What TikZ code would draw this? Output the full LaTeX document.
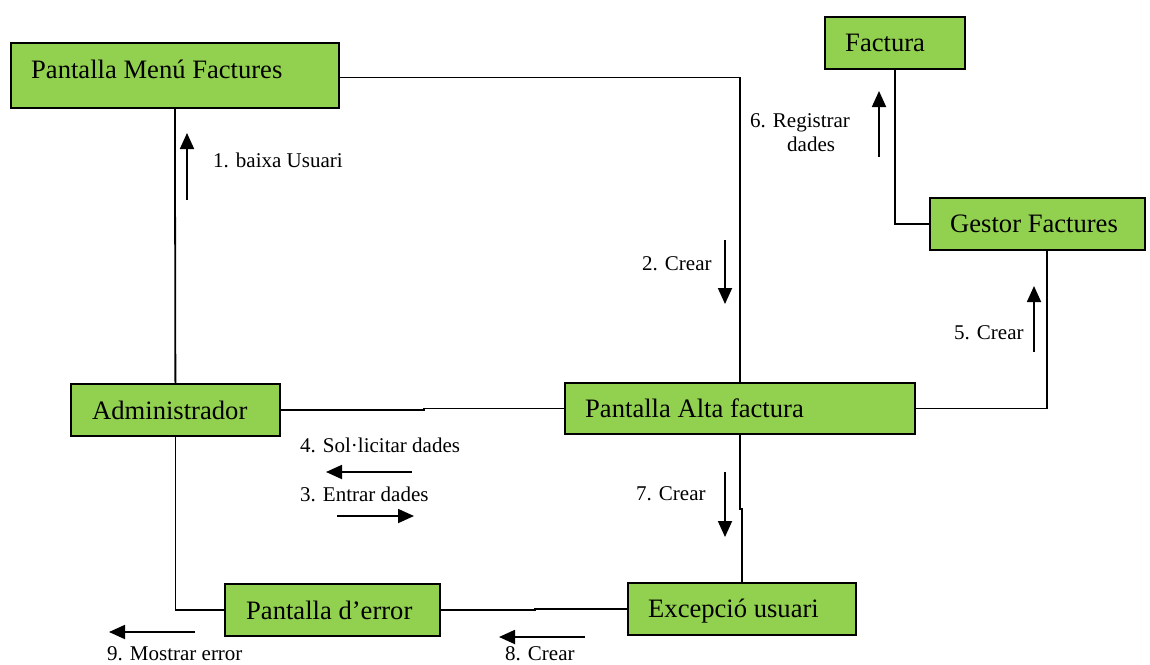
\documentclass[tikz,border=0pt]{standalone}
\usepackage{fontspec}
\setmainfont{Liberation Serif}
\usetikzlibrary{arrows.meta,calc}
\definecolor{boxgreen}{RGB}{146,208,80}
\tikzset{
  box/.style={draw=black, line width=1.8pt, fill=boxgreen, inner sep=0pt, anchor=north west},
  boxtext/.style={anchor=base west, inner sep=0pt, font=\fontsize{26.6}{28}\selectfont},
  lbl/.style={anchor=base west, inner sep=0pt, font=\fontsize{21}{24}\selectfont},
  conn/.style={line width=1.8pt},
  msg/.style={line width=1.8pt, -{Triangle[width=14pt,length=16pt]}}
}
\begin{document}
\begin{tikzpicture}[x=1pt,y=-1pt]
\useasboundingbox (0,0) rectangle (1150,664);
% boxes
\node[box, minimum width=328pt, minimum height=65pt] (menu) at (10,42) {};
\node[box, minimum width=140pt, minimum height=52pt] (factura) at (824,16) {};
\node[box, minimum width=215pt, minimum height=52pt] (gestor) at (929,197) {};
\node[box, minimum width=209pt, minimum height=52pt] (admin) at (70,383) {};
\node[box, minimum width=350pt, minimum height=51pt] (alta) at (564,382) {};
\node[box, minimum width=228pt, minimum height=52pt] (exc) at (627,582) {};
\node[box, minimum width=215pt, minimum height=52pt] (error) at (224,583) {};
% box texts
\node[boxtext] (menuT) at (31,78) {Pantalla Menú Factures};
\node[boxtext] (facturaT) at (845,51) {Factura};
\node[boxtext] (gestorT) at (950,232) {Gestor Factures};
\node[boxtext] (adminT) at (92,419) {Administrador};
\node[boxtext] (altaT) at (585,417) {Pantalla Alta factura};
\node[boxtext] (excT) at (648,617) {Excepció usuari};
\node[boxtext] (errorT) at (246,619) {Pantalla d’error};
% connectors
\draw[conn] ([yshift=-2pt]menu.east) -| (alta.north);
\draw[conn] (factura.south) |- (gestor.west);
\draw[conn] (alta.east) -| ([xshift=9.5pt]gestor.south);
\draw[conn] (menu.south) -- (admin.north);
\draw[conn] (admin.east) -- ([xshift=143pt]admin.east) |- (alta.west);
\draw[conn] (admin.south) |- (error.west);
\draw[conn] (error.east) -- ([xshift=94pt]error.east) |- (exc.west);
\draw[conn] (alta.south) -- ([yshift=-74pt]alta.south) -| (exc.north);
% message arrows
\coordinate (a1s) at (187,200); \coordinate (a1e) at (187,133);
\coordinate (a2s) at (725,240); \coordinate (a2e) at (725,304);
\coordinate (a4s) at (412,472); \coordinate (a4e) at (326,472);
\coordinate (a3s) at (337,516); \coordinate (a3e) at (414,516);
\coordinate (a5s) at (1034,352); \coordinate (a5e) at (1034,286);
\coordinate (a6s) at (879,157); \coordinate (a6e) at (879,91);
\coordinate (a7s) at (725,472); \coordinate (a7e) at (725,537);
\coordinate (a8s) at (585,637); \coordinate (a8e) at (499,637);
\coordinate (a9s) at (195,632); \coordinate (a9e) at (109,632);
\draw[msg] (a1s) -- (a1e);
\draw[msg] (a2s) -- (a2e);
\draw[msg] (a4s) -- (a4e);
\draw[msg] (a3s) -- (a3e);
\draw[msg] (a5s) -- (a5e);
\draw[msg] (a6s) -- (a6e);
\draw[msg] (a7s) -- (a7e);
\draw[msg] (a8s) -- (a8e);
\draw[msg] (a9s) -- (a9e);
% labels
\node[lbl] (l1) at (213,167) {1. baixa Usuari};
\node[lbl] (l2) at (642,270) {2. Crear};
\node[lbl] (l4) at (300,452) {4. Sol·licitar dades};
\node[lbl] (l3) at (300,501) {3. Entrar dades};
\node[lbl] (l7) at (636,500) {7. Crear};
\node[lbl] (l5) at (954,339) {5. Crear};
\node[lbl] (l6a) at (750,127) {6. Registrar};
\node[lbl] (l6b) at (787,151) {dades};
\node[lbl] (l9) at (107,660) {9. Mostrar error};
\node[lbl] (l8) at (505,660) {8. Crear};
\end{tikzpicture}
\end{document}
